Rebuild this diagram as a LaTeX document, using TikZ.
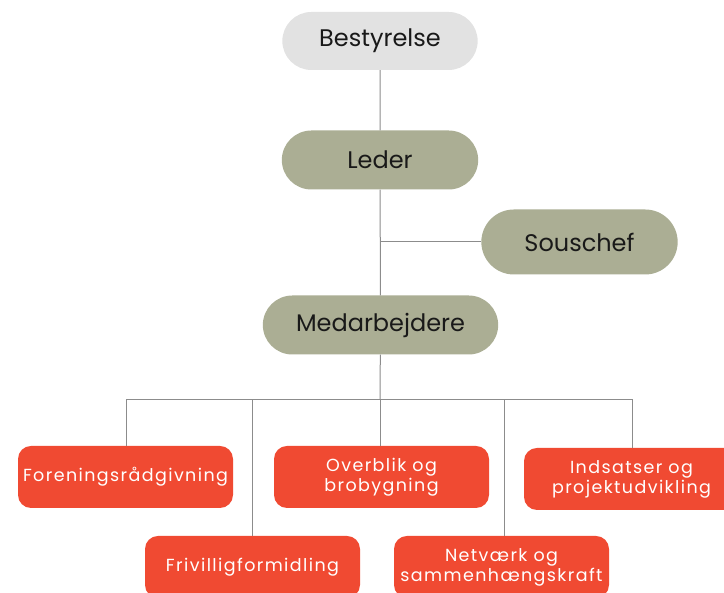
\documentclass[tikz,border=0pt]{standalone}
\usepackage{fontspec}
\usepackage{xcolor}
\usetikzlibrary{shapes.misc}
\newfontfamily\orgfont{Poppins}
\newfontfamily\orgfontsp{Poppins}[LetterSpace=8]
\definecolor{boardgray}{HTML}{E2E2E2}
\definecolor{olive}{HTML}{ABAE94}
\definecolor{taskred}{HTML}{F04A32}
\definecolor{linegray}{HTML}{8C8C8C}

\begin{document}
\begin{tikzpicture}[x=1pt, y=1pt,
    pill/.style ={rounded rectangle, draw=none, fill=olive,
      text=black!90, font=\orgfont\fontsize{24}{28}\selectfont,
      minimum width=203pt, minimum height=59pt},
    task/.style ={rectangle, rounded corners=13pt, draw=none, fill=taskred,
      text=white, align=center, font=\orgfontsp\fontsize{17.5}{20}\selectfont,
      minimum width=215pt, minimum height=62pt, inner sep=2pt},
      line/.style ={draw, linegray, line width=1pt}]
    \useasboundingbox (0,0) rectangle (724,593);
    % top of the chart - management
    \node [pill, fill=boardgray, minimum width=202pt, minimum height=58pt] (board) at (380,552) {Bestyrelse};
    \node [pill] (leader) at (380,433) {Leder};
    \node [pill, minimum width=203pt, minimum height=65pt] (deputy) at (579.5,351) {Souschef};
    \node [pill, minimum width=242pt] (staff) at (380.5,268) {Medarbejdere};
    % work areas - row 1
    \node [task] (advice) at (125.5,116) {Foreningsrådgivning};
    \node [task] (overview) at (381.5,116) {Overblik og\\brobygning};
    \node [task] (efforts) at (631.5,114) {Indsatser og\\projektudvikling};
    % work areas - row 2
    \node [task] (volunteer) at (252.5,26) {Frivilligformidling};
    \node [task] (network) at (501.5,26) {Netværk og\\sammenhængskraft};
    \coordinate (bus) at (380,193);
    % connecting nodes with paths
    \begin{scope}[every path/.style=line]
      \path (board) -- (leader);
      \path (leader) -- (staff);
      \path (deputy.west) -- (deputy.west -| leader.south);
      \path (staff) -- (bus);
      \path ([xshift=0.5pt]advice.north) |- (bus);
      \path ([xshift=-0.5pt]volunteer.north) |- (bus);
      \path ([xshift=-1.5pt]overview.north) -- ([xshift=-1.5pt]overview.north |- bus);
      \path ([xshift=2.5pt]network.north) |- (bus);
      \path ([xshift=0.5pt]efforts.north) |- (bus);
    \end{scope}
  \end{tikzpicture}
\end{document}
